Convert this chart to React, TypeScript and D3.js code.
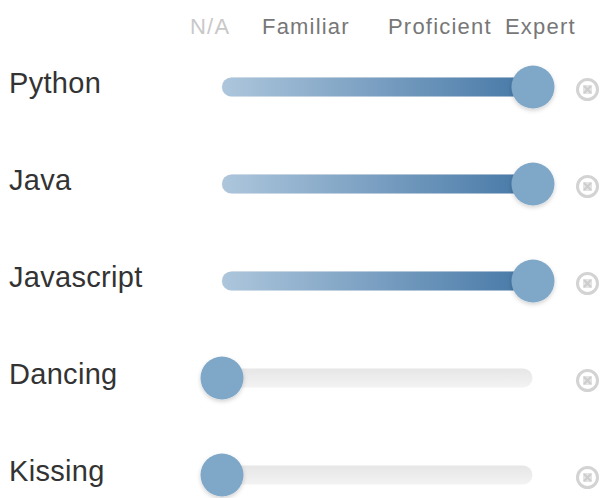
import React from "react";
import * as d3 from "d3";

const skills = ["Python", "Java", "Javascript", "Dancing", "Kissing"];
const levels = [3, 3, 3, 0, 0];
const levelLabels = ["N/A", "Familiar", "Proficient", "Expert"];

const W = 601;
const H = 498;

export default function App() {
  const x = d3.scaleLinear().domain([0, 3]).range([222, 533]);
  const y = d3.scalePoint<string>().domain(skills).range([87, 475]);
  const trackH = 19;

  // header label positions (left-anchored)
  const headerX = [190, 262, 388, 505];
  const headerColor = ["#c8c8c8", "#777", "#777", "#777"];

  return (
    <svg width={W} height={H} style={{ position: "absolute", left: 0, top: 0 }}>
      <defs>
        <linearGradient id="fillGrad" x1="0" x2="1" y1="0" y2="0">
          <stop offset="0%" stopColor="#adc6dc" />
          <stop offset="100%" stopColor="#4577a6" />
        </linearGradient>
        <linearGradient id="emptyGrad" x1="0" x2="0" y1="0" y2="1">
          <stop offset="0%" stopColor="#e6e6e6" />
          <stop offset="100%" stopColor="#f3f3f3" />
        </linearGradient>
        <filter id="shadow" x="-50%" y="-50%" width="200%" height="200%">
          <feDropShadow dx="0" dy="2" stdDeviation="2" floodColor="#000" floodOpacity="0.18" />
        </filter>
      </defs>
      <rect width={W} height={H} fill="#fff" />
      {levelLabels.map((l, i) => (
        <text
          key={l}
          x={headerX[i]}
          y={34}
          fontFamily="Liberation Sans, Arial, sans-serif"
          fontSize={22}
          letterSpacing={1.2}
          fill={headerColor[i]}
        >
          {l}
        </text>
      ))}
      {skills.map((s, i) => {
        const cy = y(s)!;
        const v = levels[i];
        return (
          <g key={s}>
            <text
              x={9}
              y={cy + 6}
              fontFamily="Liberation Sans, Arial, sans-serif"
              fontSize={29}
              letterSpacing={0.3}
              fill="#333"
            >
              {s}
            </text>
            <rect
              x={x(0) - trackH / 2 + 9}
              y={cy - trackH / 2}
              width={x(3) - x(0)}
              height={trackH}
              rx={trackH / 2}
              fill="url(#emptyGrad)"
            />
            {v > 0 && (
              <rect
                x={x(0)}
                y={cy - trackH / 2}
                width={x(v) - x(0)}
                height={trackH}
                rx={trackH / 2}
                fill="url(#fillGrad)"
              />
            )}
            <circle cx={x(v)} cy={cy} r={21.5} fill="#7fa7c8" filter="url(#shadow)" />
            <g transform={`translate(587.5,${cy + 2.5})`}>
              <circle r={10} fill="none" stroke="#d3d3d3" strokeWidth={3} />
              <rect x={-4.5} y={-4.5} width={9} height={9} fill="#e4e4e4" />
              <path d="M-3.5,-3.5L3.5,3.5M3.5,-3.5L-3.5,3.5" stroke="#cdcdcd" strokeWidth={2} />
            </g>
          </g>
        );
      })}
    </svg>
  );
}
